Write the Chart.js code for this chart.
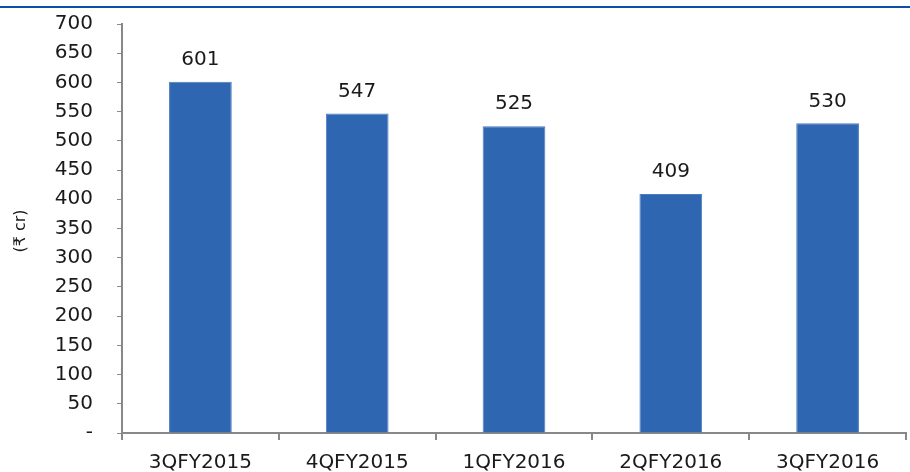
<!DOCTYPE html>
<html>
<head>
<meta charset="utf-8">
<script src="https://cdn.jsdelivr.net/npm/chart.js@4"></script>
<style>
  html, body { margin: 0; padding: 0; background: #fff; }
  #wrap { width: 910px; height: 472px; position: relative; }
</style>
</head>
<body>
<div id="wrap"><canvas id="chartPat"></canvas></div>
<script>
const quarters = ['3QFY2015', '4QFY2015', '1QFY2016', '2QFY2016', '3QFY2016']
const patValues = [601, 547, 525, 409, 530]
const yTicks = [0, 50, 100, 150, 200, 250, 300, 350, 400, 450, 500, 550, 600, 650, 700]

const fontFam = '"DejaVu Sans", "Noto Sans", sans-serif'
const axisGrey = '#888888'

// blue rule across the top + value labels above bars
const extras = {
    id: 'extras',
    afterDraw(chart) {
        const c = chart.ctx
        c.save()
        c.strokeStyle = '#0a4fa8'
        c.lineWidth = 2
        c.beginPath()
        c.moveTo(0, 7)
        c.lineTo(chart.width, 7)
        c.stroke()

        c.fillStyle = '#1a1a1a'
        c.font = '20px ' + fontFam
        c.textAlign = 'center'
        c.textBaseline = 'bottom'
        chart.getDatasetMeta(0).data.forEach(function (bar, i) {
            c.fillText(String(patValues[i]), bar.x, bar.y - 12)
        })

        // y title
        c.translate(21, 231)
        c.rotate(-Math.PI / 2)
        c.font = '16px ' + fontFam
        c.textBaseline = 'middle'
        c.fillText('(\u20B9 cr)', 0, 0)
        c.restore()
    }
}

var ctxPat = document.getElementById('chartPat').getContext('2d');
var chartPat = new Chart(ctxPat, {
    type: 'bar',
    data: {
        labels: quarters,
        datasets: [{
            data: patValues,
            backgroundColor: '#2e66b1',
            borderColor: '#4a7cc0',
            borderWidth: 1,
            barPercentage: 0.4,
            categoryPercentage: 1.0
        }]
    },
    options: {
        responsive: true,
        maintainAspectRatio: false,
        animation: false,
        layout: { padding: { top: 24, right: 4, left: 0, bottom: 0 } },
        plugins: { legend: { display: false }, tooltip: { enabled: false } },
        scales: {
            x: {
                grid: { display: true, drawOnChartArea: false, drawTicks: true, tickLength: 7, color: axisGrey, lineWidth: 2, offset: true },
                border: { display: true, color: axisGrey, width: 2 },
                ticks: { color: '#1a1a1a', font: { family: fontFam, size: 20 }, padding: 11, maxRotation: 0 },
                afterFit: function (s) { s.height = 39; s.paddingLeft = 0; s.paddingRight = 0 }
            },
            y: {
                min: 0,
                max: 700,
                afterBuildTicks: function (s) { s.ticks = yTicks.map(function (v) { return { value: v } }) },
                grid: { display: true, drawOnChartArea: false, drawTicks: true, tickLength: 5, color: axisGrey, lineWidth: 1 },
                border: { display: true, color: axisGrey, width: 2 },
                ticks: {
                    color: '#1a1a1a',
                    font: { family: fontFam, size: 20 },
                    padding: 24,
                    callback: function (v) { return v === 0 ? '-' : v }
                },
                afterFit: function (s) { s.width = 122; s.paddingTop = 0; s.paddingBottom = 0 }
            }
        }
    },
    plugins: [extras]
});
</script>
</body>
</html>
